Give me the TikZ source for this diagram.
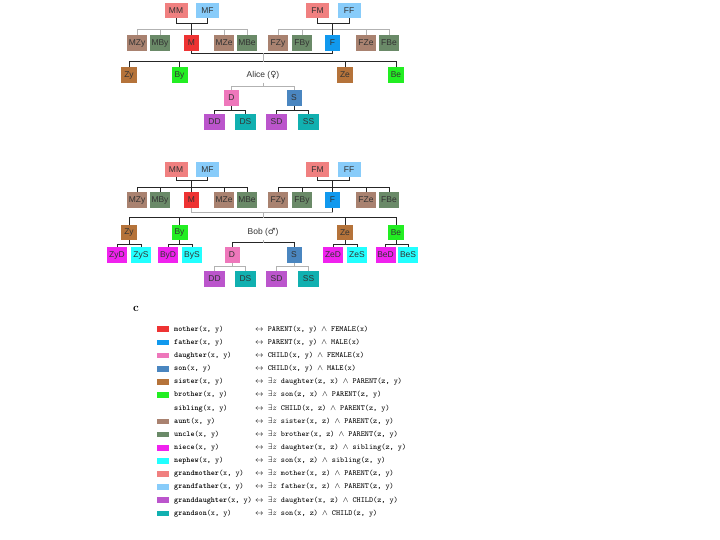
\documentclass[tikz,border=0pt]{standalone}
\usepackage{fontspec}
\setsansfont{Liberation Sans}
\newfontfamily\symfont{DejaVu Sans}
\newfontfamily\predfont{lmmonolt10-bold.otf}

\definecolor{cMother}{HTML}{EE3333}
\definecolor{cFather}{HTML}{1199EE}
\definecolor{cDaughter}{HTML}{EE77BB}
\definecolor{cSon}{HTML}{4A86C0}
\definecolor{cSister}{HTML}{B5733A}
\definecolor{cBrother}{HTML}{22EE22}
\definecolor{cAunt}{HTML}{A98270}
\definecolor{cUncle}{HTML}{6A8A68}
\definecolor{cNiece}{HTML}{F022EE}
\definecolor{cNephew}{HTML}{22FFFF}
\definecolor{cGrandmother}{HTML}{F08080}
\definecolor{cGrandfather}{HTML}{88CCFA}
\definecolor{cGranddaughter}{HTML}{BB55CC}
\definecolor{cGrandson}{HTML}{11B0B0}

\tikzset{
  person/.style={inner sep=0pt, minimum height=15.5bp, text=black!80,
    font=\sffamily\fontsize{8.5}{9}\selectfont},
  tie/.style={draw=black!85, line width=0.8bp},
  faint/.style={draw=black!30, line width=0.8bp},
  swatch/.style={inner sep=0pt, minimum width=12bp, minimum height=5.7bp},
  legtext/.style={anchor=west, inner sep=0pt, font=\ttfamily\fontsize{7.8}{8}\selectfont},
}

\begin{document}
\begin{tikzpicture}[x=1bp,y=-1bp]
  \fill[white] (0,0) rectangle (720,540);
  \useasboundingbox (0,0) rectangle (720,540);

  % tree for Alice
  \foreach \n/\x/\w/\c in {MM/176/23/cGrandmother, MF/207.5/23/cGrandfather,
                           FM/317.5/23/cGrandmother, FF/349/23/cGrandfather}
    \node[person, fill=\c, minimum width=\w bp] (A-\n) at (\x,10.5) {\n};
  \foreach \n/\x/\w/\c in {MZy/137/20/cAunt, MBy/160/20/cUncle, M/191.5/15/cMother,
                           MZe/224/20/cAunt, MBe/247/20/cUncle, FZy/278/20/cAunt,
                           FBy/302/20/cUncle, F/332.5/15/cFather, FZe/366/20/cAunt,
                           FBe/389/20/cUncle}
    \node[person, fill=\c, minimum width=\w bp] (A-\n) at (\x,43) {\n};
  \foreach \n/\x/\c in {Zy/129/cSister, By/179.5/cBrother, Ze/345/cSister, Be/396/cBrother}
    \node[person, fill=\c, minimum width=16bp] (A-\n) at (\x,75) {\n};
  \node[person] (A-ego) at (263,75) {Alice ({\symfont ♀})};
  \foreach \n/\x/\c in {D/231.5/cDaughter, S/294/cSon}
    \node[person, fill=\c, minimum width=15bp] (A-\n) at (\x,98) {\n};
  \foreach \n/\x/\c in {DD/214.5/cGranddaughter, DS/245.5/cGrandson,
                        SD/276.5/cGranddaughter, SS/308.5/cGrandson}
    \node[person, fill=\c, minimum width=21bp] (A-\n) at (\x,122) {\n};

  \draw[tie] (A-MM.south) -- ++(0,4.75) -| (A-MF.south);
  \draw[tie] (A-FM.south) -- ++(0,4.75) -| (A-FF.south);
  \draw[faint] (A-MZy.north) -- ++(0,-6) -| (A-MBe.north);
  \draw[faint] (A-FZy.north) -- ++(0,-6) -| (A-FBe.north);
  \foreach \n in {MBy, MZe, FBy, FZe}
    \draw[faint] (A-\n.north) -- ++(0,-6);
  \draw[tie] (A-M.north) -- ++(0,-12.25);
  \draw[tie] (A-F.north) -- ++(0,-12.25);
  \draw[tie] (A-M.south) -- ++(0,2.5) -| (A-F.south);
  \draw[tie] (A-Zy.north) -- ++(0,-5.5) -| (A-Be.north);
  \foreach \n in {By, Ze}
    \draw[tie] (A-\n.north) -- ++(0,-5.5);
  \draw[faint] (A-ego |- A-Zy.north) ++(0,-5.5) -- ++(0,-8.5);
  \draw[faint] (A-D.north) -- ++(0,-3.5) -| (A-S.north);
  \draw[faint] (A-ego.south) -- ([yshift=3.5bp]A-ego.south |- A-D.north);
  \draw[tie] (A-DD.north) -- ++(0,-4) -| (A-DS.north);
  \draw[tie] (A-SD.north) -- ++(0,-4) -| (A-SS.north);
  \draw[tie] (A-D.south) -- ++(0,4.5);
  \draw[tie] (A-S.south) -- ++(0,4.5);

  % tree for Bob
  \foreach \n/\x/\w/\c in {MM/176/23/cGrandmother, MF/207.5/23/cGrandfather,
                           FM/317.5/23/cGrandmother, FF/349/23/cGrandfather}
    \node[person, fill=\c, minimum width=\w bp] (B-\n) at (\x,169.5) {\n};
  \foreach \n/\x/\w/\c in {MZy/137/20/cAunt, MBy/160/20/cUncle, M/191.5/15/cMother,
                           MZe/224/20/cAunt, MBe/247/20/cUncle, FZy/278/20/cAunt,
                           FBy/302/20/cUncle, F/332.5/15/cFather, FZe/366/20/cAunt,
                           FBe/389/20/cUncle}
    \node[person, fill=\c, minimum width=\w bp] (B-\n) at (\x,200) {\n};
  \foreach \n/\x/\c in {Zy/129/cSister, By/179.5/cBrother, Ze/345/cSister, Be/396/cBrother}
    \node[person, fill=\c, minimum width=16bp] (B-\n) at (\x,232.5) {\n};
  \node[person] (B-ego) at (263,232.5) {Bob ({\symfont ♂})};
  \foreach \n/\x/\w/\c in {ZyD/117/20/cNiece, ZyS/141/20/cNephew, ByD/168/20/cNiece,
                           ByS/192/20/cNephew, D/232/15/cDaughter, S/294/15/cSon,
                           ZeD/333/20/cNiece, ZeS/357/20/cNephew, BeD/385.5/20/cNiece,
                           BeS/408/20/cNephew}
    \node[person, fill=\c, minimum width=\w bp] (B-\n) at (\x,255) {\n};
  \foreach \n/\x/\c in {DD/214.5/cGranddaughter, DS/245.5/cGrandson,
                        SD/276.5/cGranddaughter, SS/308.5/cGrandson}
    \node[person, fill=\c, minimum width=21bp] (B-\n) at (\x,279) {\n};

  \draw[tie] (B-MM.south) -- ++(0,3.25) -| (B-MF.south);
  \draw[tie] (B-FM.south) -- ++(0,3.25) -| (B-FF.south);
  \draw[tie] (B-MZy.north) -- ++(0,-4.75) -| (B-MBe.north);
  \draw[tie] (B-FZy.north) -- ++(0,-4.75) -| (B-FBe.north);
  \foreach \n in {MBy, MZe, FBy, FZe}
    \draw[tie] (B-\n.north) -- ++(0,-4.75);
  \draw[tie] (B-M.north) -- ++(0,-11.75);
  \draw[tie] (B-F.north) -- ++(0,-11.75);
  \draw[faint] (B-M.south) -- ++(0,4.25) -| (B-F.south);
  \draw[tie] (B-F.south) -- ++(0,4.25);
  \draw[tie] (B-Zy.north) -- ++(0,-6.75) -| (B-Be.north);
  \foreach \n in {By, Ze}
    \draw[tie] (B-\n.north) -- ++(0,-6.75);
  \draw[faint] (B-ego |- B-Zy.north) ++(0,-6.75) -- ++(0,-6);
  \draw[tie] (B-D.north) -- ++(0,-4.25) -| (B-S.north);
  \draw[faint] (B-ego.south) -- ([yshift=4.25bp]B-ego.south |- B-D.north);
  \foreach \p/\d/\s in {Zy/ZyD/ZyS, By/ByD/ByS, Ze/ZeD/ZeS, Be/BeD/BeS}{
    \draw[tie] (B-\d.north) -- ++(0,-2.75) -| (B-\s.north);
    \draw[tie] (B-\p.south) -- ++(0,4.25);
  }
  \draw[faint] (B-DD.north) -- ++(0,-4.25) -| (B-DS.north);
  \draw[faint] (B-SD.north) -- ++(0,-4.25) -| (B-SS.north);
  \draw[faint] (B-D.south) -- ++(0,4.25);
  \draw[faint] (B-S.south) -- ++(0,4.25);

  % legend
  \node[inner sep=0pt, font=\bfseries\fontsize{11.5}{12}\selectfont] (panel-c) at (136,308.5) {c};
  \foreach \i/\c/\lhs/\rhs in {
      0/cMother/mother/{PARENT(x, y) $\wedge$ FEMALE(x)},
      1/cFather/father/{PARENT(x, y) $\wedge$ MALE(x)},
      2/cDaughter/daughter/{CHILD(x, y) $\wedge$ FEMALE(x)},
      3/cSon/son/{CHILD(x, y) $\wedge$ MALE(x)},
      4/cSister/sister/{$\exists z$ daughter(z, x) $\wedge$ PARENT(z, y)},
      5/cBrother/brother/{$\exists z$ son(z, x) $\wedge$ PARENT(z, y)},
      6/none/sibling/{$\exists z$ CHILD(x, z) $\wedge$ PARENT(z, y)},
      7/cAunt/aunt/{$\exists z$ sister(x, z) $\wedge$ PARENT(z, y)},
      8/cUncle/uncle/{$\exists z$ brother(x, z) $\wedge$ PARENT(z, y)},
      9/cNiece/niece/{$\exists z$ daughter(x, z) $\wedge$ sibling(z, y)},
      10/cNephew/nephew/{$\exists z$ son(x, z) $\wedge$ sibling(z, y)},
      11/cGrandmother/grandmother/{$\exists z$ mother(x, z) $\wedge$ PARENT(z, y)},
      12/cGrandfather/grandfather/{$\exists z$ father(x, z) $\wedge$ PARENT(z, y)},
      13/cGranddaughter/granddaughter/{$\exists z$ daughter(x, z) $\wedge$ CHILD(z, y)},
      14/cGrandson/grandson/{$\exists z$ son(x, z) $\wedge$ CHILD(z, y)}}{
    \pgfmathsetmacro{\y}{329.3+13.15*\i}
    \node[swatch, fill=\c] (sw-\i) at (163,\y) {};
    \node[legtext] (lhs-\i) at (174,\y) {{\predfont\lhs}(x, y)};
    \node[legtext] (rhs-\i) at (255,\y) {$\leftrightarrow$ \rhs};
  }
\end{tikzpicture}
\end{document}
